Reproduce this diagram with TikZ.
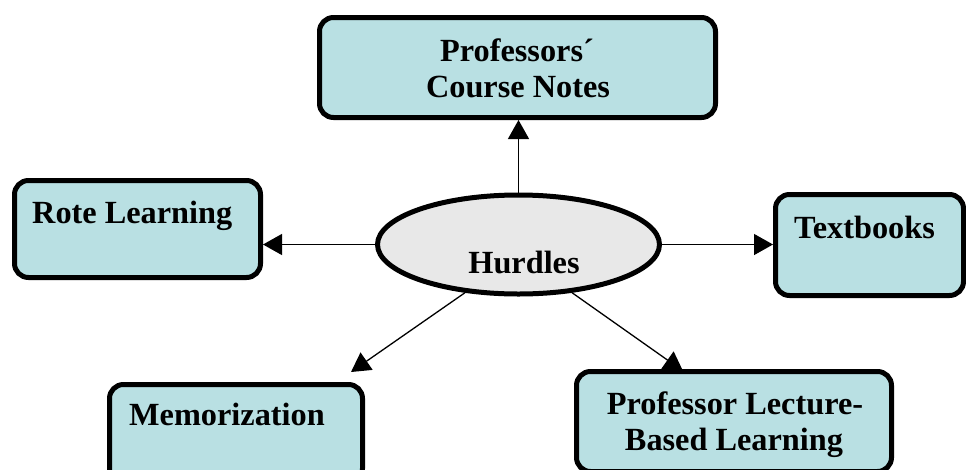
\documentclass[tikz,border=0pt]{standalone}
\usepackage{fontspec}
\setmainfont{Liberation Serif}
\usetikzlibrary{arrows.meta,backgrounds,shapes.geometric}
\definecolor{boxfill}{RGB}{185,224,227}
\definecolor{ellfill}{RGB}{232,232,232}
\begin{document}
\begin{tikzpicture}[x=1pt,y=-1pt,
  box/.style={draw=black, line width=5pt, fill=boxfill, rounded corners=14pt, inner sep=0pt},
  hub/.style={ellipse, draw=black, line width=5pt, fill=ellfill, inner sep=0pt, minimum width=282pt, minimum height=99pt},
  lbl/.style={font=\bfseries\fontsize{32.3}{36}\selectfont, inner sep=0pt, text=black},
  conn/.style={line width=1.3pt, -{Triangle[length=19pt,width=21pt]}}]
\useasboundingbox (0,0) rectangle (966,469);
\clip (0,0) rectangle (966,469);
% boxes
\node[box, minimum width=396pt, minimum height=100pt] (notes) at (517.5,67.5) {};
\node[box, minimum width=246pt, minimum height=97pt] (rote) at (137.5,229) {};
\node[box, minimum width=188pt, minimum height=101pt] (tb) at (869.5,245) {};
\node[box, minimum width=253pt, minimum height=98pt] (mem) at (236,433.5) {};
\node[box, minimum width=315pt, minimum height=100pt] (pl) at (734,421.5) {};
\node[hub] (hub) at (518.5,244.5) {};
% texts
\node[lbl, anchor=base] (notesA) at (517,61) {Professors´};
\node[lbl, anchor=base] (notesB) at (518,97) {Course Notes};
\node[lbl, anchor=base west] (roteT) at (32,223) {Rote Learning};
\node[lbl, anchor=base west] (tbT) at (794,238) {Textbooks};
\node[lbl, anchor=base west] (memT) at (129,425) {Memorization};
\node[lbl, anchor=base] (plA) at (735,414) {Professor Lecture-};
\node[lbl, anchor=base] (plB) at (734,450) {Based Learning};
\node[lbl, anchor=base] (hubT) at (524,273) {Hurdles};
% free ends
\coordinate (memTip) at (351,372);
\coordinate (plTip) at (683,371);
\begin{scope}[on background layer]
\draw[conn] (hub.north) -- (hub.north |- notes.south);
\draw[conn] (hub.west) -- (hub.west -| rote.east);
\draw[conn] (hub.east) -- (hub.east -| tb.west);
\draw[conn] (hub.222) -- (memTip);
\draw[conn] (hub.318) -- (plTip);
\end{scope}
\end{tikzpicture}
\end{document}
